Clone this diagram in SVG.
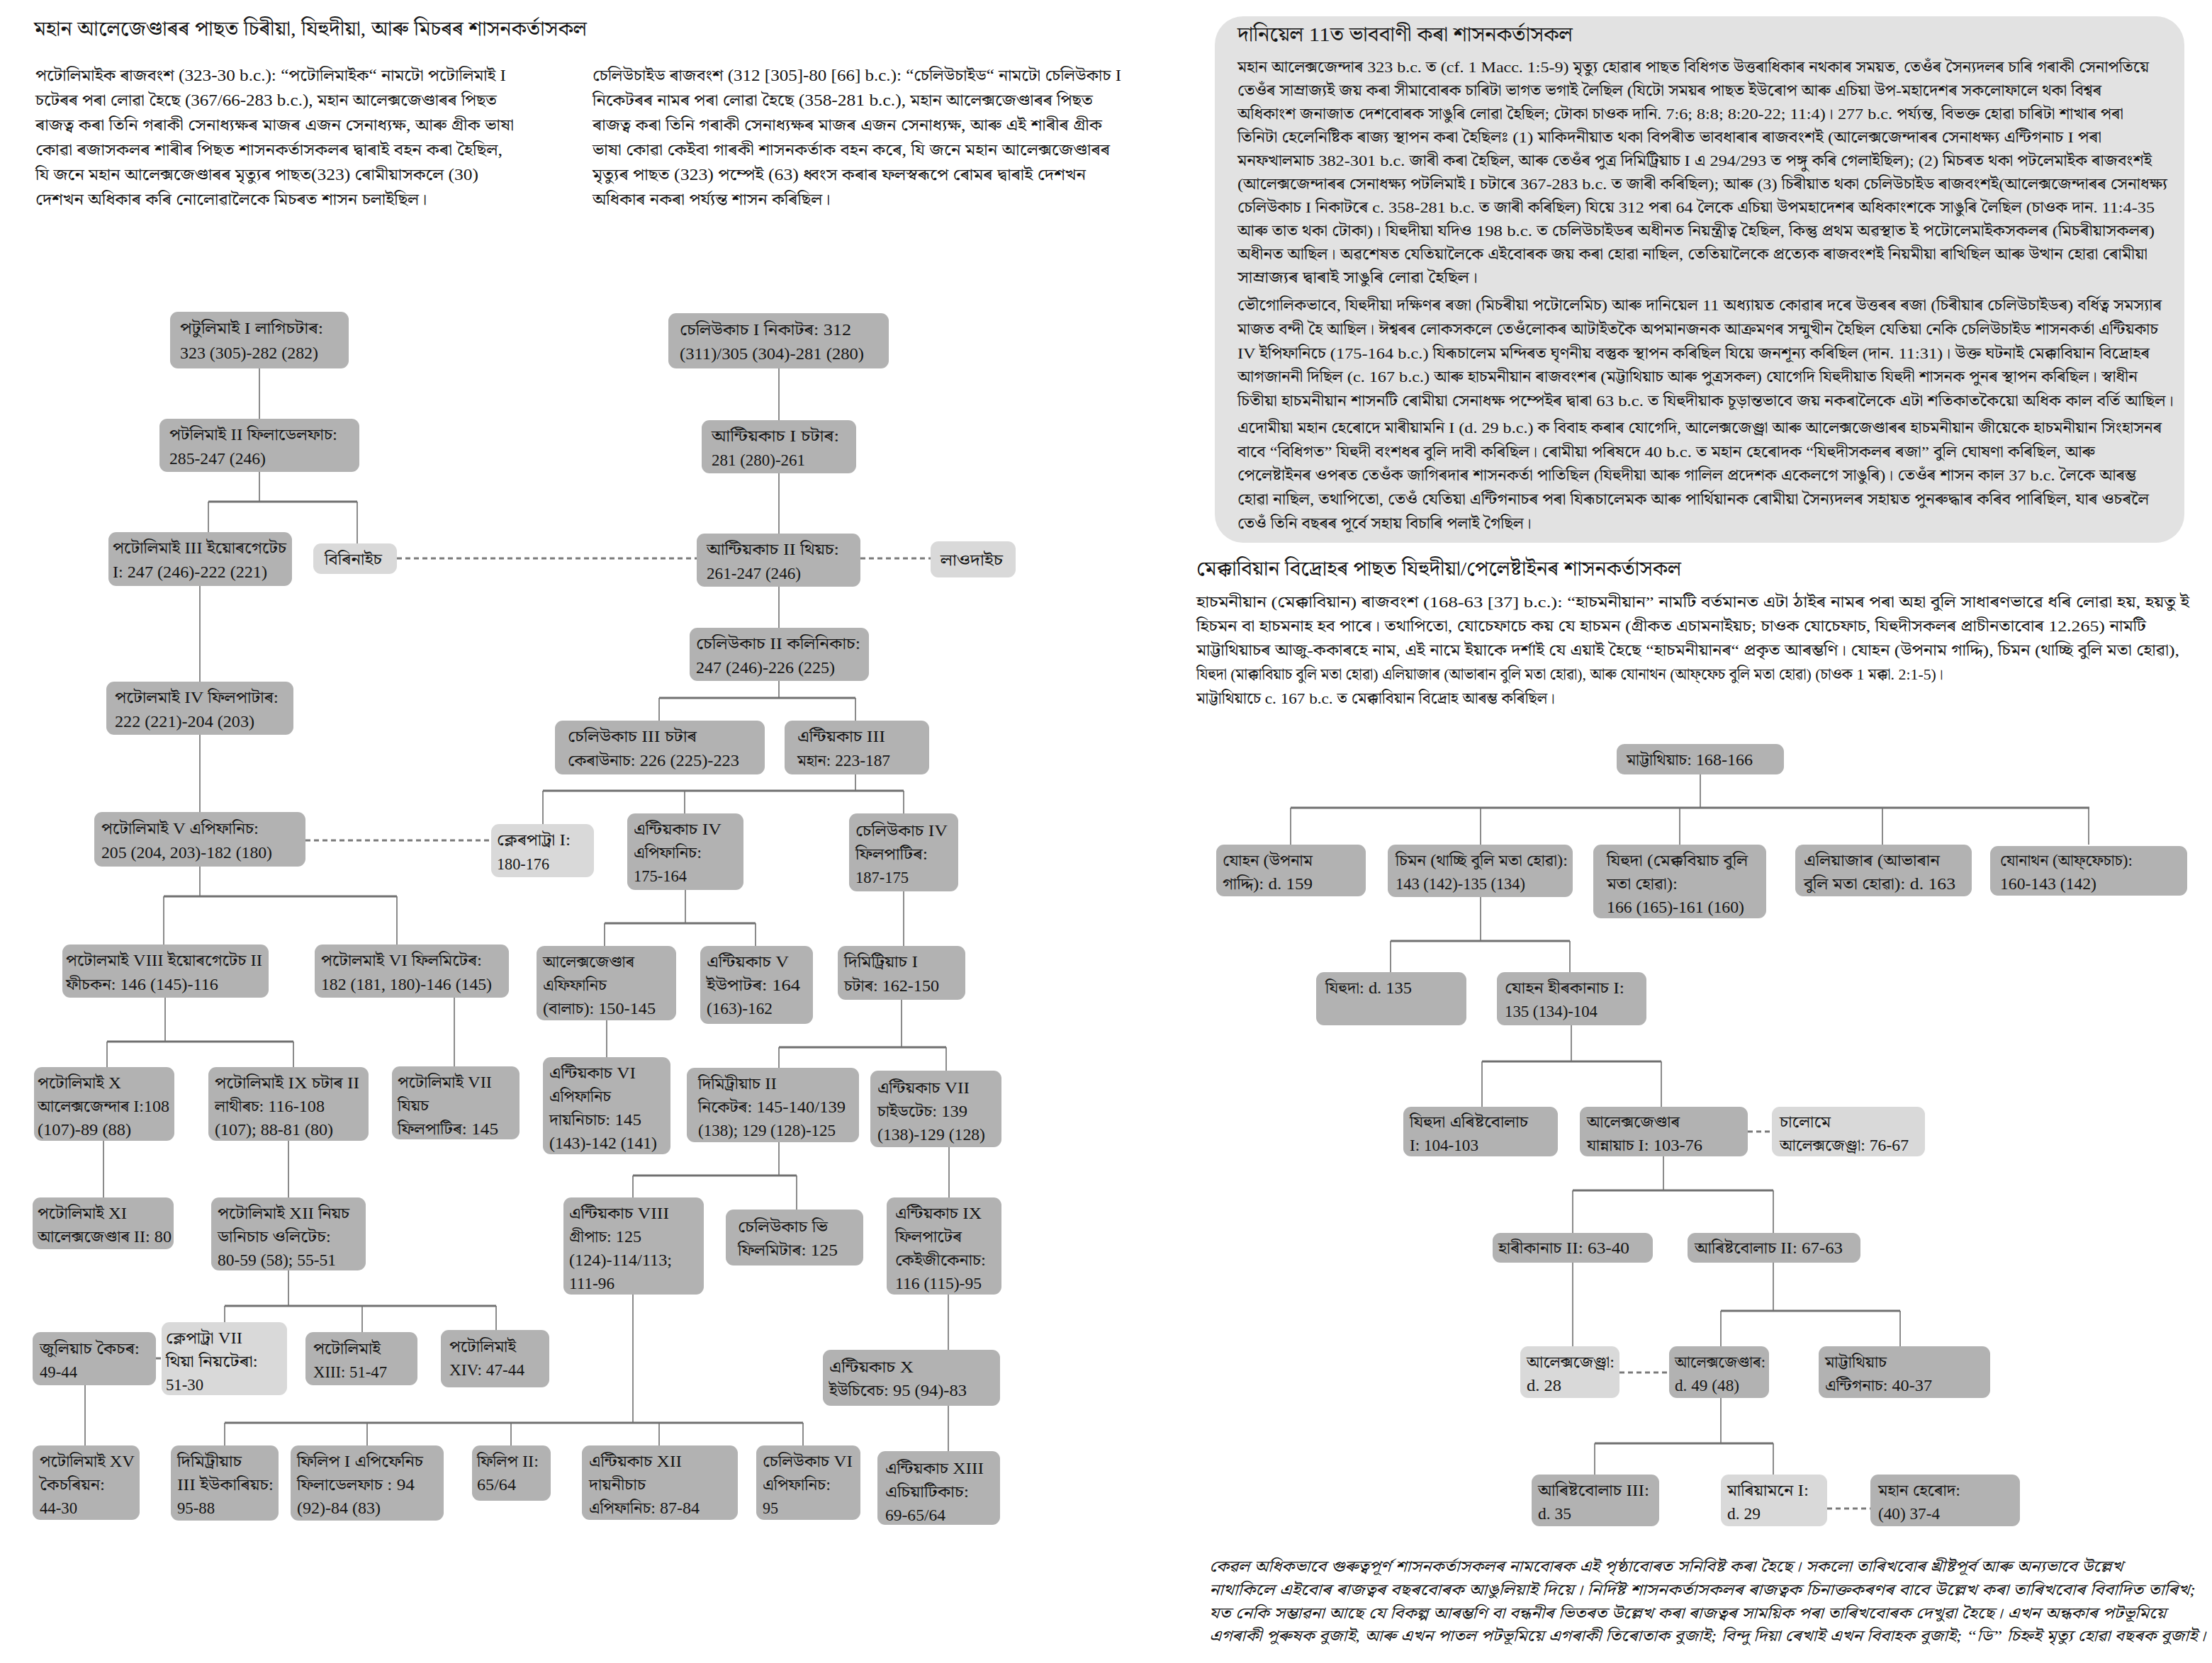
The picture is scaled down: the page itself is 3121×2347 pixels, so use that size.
<svg xmlns="http://www.w3.org/2000/svg" width="3121" height="2347" viewBox="0 0 3121 2347">
<style>
text{font-family:"Liberation Serif","Noto Serif Bengali","Noto Sans Bengali","Lohit Assamese","Lohit Bengali","FreeSerif",serif;fill:#151515}
.tt{font-size:28px}
.p{font-size:23px}
.q{font-size:22px}
.nt{font-size:23px}
.ft{font-size:22px;font-style:italic}
.n{fill:#b2b2b2}
.l{fill:#d9d9d9}
.c{stroke:#6f6f6f;stroke-width:1.6;fill:none}
.b{stroke:#707070;stroke-width:3;fill:none}
.d{stroke:#7a7a7a;stroke-width:3;stroke-dasharray:7 5;fill:none}
</style>
<rect width="3121" height="2347" fill="#ffffff"/>

<!-- header: Ptolemaic / Seleucid introductions -->
<g id="header-left">
<text class="tt" x="48" y="50" textLength="780" lengthAdjust="spacingAndGlyphs">মহান আলেজেণ্ডাৰৰ পাছত চিৰীয়া, যিহুদীয়া, আৰু মিচৰৰ শাসনকৰ্তাসকল</text>
<text class="p" x="50" y="114" textLength="664" lengthAdjust="spacingAndGlyphs">পটোলিমাইক ৰাজবংশ (323-30 b.c.): “পটোলিমাইক“ নামটো পটোলিমাই I</text>
<text class="p" x="50" y="149" textLength="651" lengthAdjust="spacingAndGlyphs">চটেৰৰ পৰা লোৱা হৈছে (367/66-283 b.c.), মহান আলেক্সজেণ্ডাৰৰ পিছত</text>
<text class="p" x="50" y="184" textLength="675" lengthAdjust="spacingAndGlyphs">ৰাজত্ব কৰা তিনি গৰাকী সেনাধ্যক্ষৰ মাজৰ এজন সেনাধ্যক্ষ, আৰু গ্ৰীক ভাষা</text>
<text class="p" x="50" y="219" textLength="659" lengthAdjust="spacingAndGlyphs">কোৱা ৰজাসকলৰ শাৰীৰ পিছত শাসনকৰ্তাসকলৰ দ্বাৰাই বহন কৰা হৈছিল,</text>
<text class="p" x="50" y="254" textLength="625" lengthAdjust="spacingAndGlyphs">যি জনে মহান আলেক্সজেণ্ডাৰৰ মৃত্যুৰ পাছত(323)  ৰোমীয়াসকলে (30)</text>
<text class="p" x="50" y="289" textLength="553" lengthAdjust="spacingAndGlyphs">দেশখন অধিকাৰ কৰি নোলোৱালৈকে মিচৰত শাসন চলাইছিল।</text>
</g>
<g id="header-middle">
<text class="p" x="836" y="114" textLength="746" lengthAdjust="spacingAndGlyphs">চেলিউচাইড ৰাজবংশ (312 [305]-80 [66] b.c.): “চেলিউচাইড“ নামটো চেলিউকাচ I</text>
<text class="p" x="836" y="149" textLength="706" lengthAdjust="spacingAndGlyphs">নিকেটৰৰ নামৰ পৰা লোৱা হৈছে (358-281 b.c.),  মহান আলেক্সজেণ্ডাৰৰ পিছত</text>
<text class="p" x="836" y="184" textLength="719" lengthAdjust="spacingAndGlyphs">ৰাজত্ব কৰা তিনি গৰাকী সেনাধ্যক্ষৰ মাজৰ এজন সেনাধ্যক্ষ, আৰু এই শাৰীৰ গ্ৰীক</text>
<text class="p" x="836" y="219" textLength="730" lengthAdjust="spacingAndGlyphs">ভাষা কোৱা কেইবা গাৰকী শাসনকৰ্তাক বহন কৰে, যি জনে মহান আলেক্সজেণ্ডাৰৰ</text>
<text class="p" x="836" y="254" textLength="696" lengthAdjust="spacingAndGlyphs">মৃত্যুৰ পাছত (323) পম্পেই (63) ধ্বংস কৰাৰ ফলস্বৰূপে  ৰোমৰ দ্বাৰাই দেশখন</text>
<text class="p" x="836" y="289" textLength="336" lengthAdjust="spacingAndGlyphs">অধিকাৰ নকৰা পৰ্য্যন্ত শাসন কৰিছিল।</text>
</g>

<!-- Daniel 11 panel -->
<g id="daniel-panel">
<rect x="1714" y="23" width="1368" height="743" rx="40" fill="#e2e2e2"/>
<text class="tt" x="1746" y="58" textLength="473" lengthAdjust="spacingAndGlyphs">দানিয়েল 11ত ভাববাণী কৰা শাসনকৰ্তাসকল</text>
<text class="q" x="1746" y="102" textLength="1286" lengthAdjust="spacingAndGlyphs">মহান আলেক্সজেন্দাৰ 323 b.c. ত (cf. 1 Macc. 1:5-9) মৃত্যু হোৱাৰ পাছত বিধিগত উত্তৰাধিকাৰ নথকাৰ সময়ত, তেওঁৰ সৈন্যদলৰ চাৰি গৰাকী সেনাপতিয়ে</text>
<text class="q" x="1746" y="135" textLength="1219" lengthAdjust="spacingAndGlyphs">তেওঁৰ সাম্ৰাজ্যই জয় কৰা সীমাবোৰক চাৰিটা ভাগত ভগাই লৈছিল (যিটো সময়ৰ পাছত ইউৰোপ আৰু এচিয়া উপ-মহাদেশৰ সকলোফালে থকা বিশ্বৰ</text>
<text class="q" x="1746" y="168" textLength="1250" lengthAdjust="spacingAndGlyphs">অধিকাংশ জনাজাত দেশবোৰক সাঙুৰি লোৱা হৈছিল; টোকা চাওক দানি. 7:6; 8:8; 8:20-22; 11:4)।  277 b.c. পৰ্য্যন্ত, বিভক্ত হোৱা চাৰিটা শাখাৰ পৰা</text>
<text class="q" x="1746" y="201" textLength="1219" lengthAdjust="spacingAndGlyphs">তিনিটা হেলেনিষ্টিক ৰাজ্য স্থাপন কৰা হৈছিলঃ (1) মাকিদনীয়াত থকা বিপৰীত ভাবধাৰাৰ ৰাজবংশই (আলেক্সজেন্দাৰৰ সেনাধক্ষ্য এন্টিগনাচ I পৰা</text>
<text class="q" x="1746" y="234" textLength="1290" lengthAdjust="spacingAndGlyphs">মনফখালমাচ 382-301 b.c. জাৰী কৰা হৈছিল, আৰু তেওঁৰ পুত্ৰ দিমিট্ৰিয়াচ I এ 294/293 ত পঙ্গু কৰি গেলাইছিল); (2) মিচৰত থকা পটলেমাইক ৰাজবংশই</text>
<text class="q" x="1746" y="267" textLength="1312" lengthAdjust="spacingAndGlyphs">(আলেক্সজেন্দাৰৰ সেনাধক্ষ্য পটলিমাই I চটাৰে 367-283 b.c. ত জাৰী কৰিছিল); আৰু (3)  চিৰীয়াত থকা চেলিউচাইড ৰাজবংশই(আলেক্সজেন্দাৰৰ সেনাধক্ষ্য</text>
<text class="q" x="1746" y="300" textLength="1294" lengthAdjust="spacingAndGlyphs">চেলিউকাচ I নিকাটৰে c. 358-281 b.c. ত জাৰী কৰিছিল) যিয়ে 312 পৰা 64 লৈকে এচিয়া উপমহাদেশৰ অধিকাংশকে সাঙুৰি লৈছিল (চাওক দান. 11:4-35</text>
<text class="q" x="1746" y="333" textLength="1294" lengthAdjust="spacingAndGlyphs">আৰু তাত থকা টোকা)। যিহুদীয়া যদিও  198 b.c. ত চেলিউচাইডৰ অধীনত নিয়ন্ত্ৰীত্ব হৈছিল, কিন্তু প্ৰথম অৱস্থাত ই পটোলেমাইকসকলৰ (মিচৰীয়াসকলৰ)</text>
<text class="q" x="1746" y="366" textLength="1284" lengthAdjust="spacingAndGlyphs">অধীনত আছিল। অৱশেষত যেতিয়ালৈকে এইবোৰক জয় কৰা হোৱা নাছিল, তেতিয়ালৈকে প্ৰত্যেক ৰাজবংশই নিয়মীয়া ৰাখিছিল আৰু উত্থান হোৱা ৰোমীয়া</text>
<text class="q" x="1746" y="399" textLength="339" lengthAdjust="spacingAndGlyphs">সাম্ৰাজ্যৰ দ্বাৰাই সাঙুৰি লোৱা হৈছিল।</text>
<text class="q" x="1746" y="438" textLength="1304" lengthAdjust="spacingAndGlyphs">ভৌগোলিকভাবে, যিহুদীয়া দক্ষিণৰ ৰজা (মিচৰীয়া পটোলেমিচ) আৰু দানিয়েল 11 অধ্যায়ত কোৱাৰ দৰে উত্তৰৰ ৰজা (চিৰীয়াৰ চেলিউচাইডৰ) বৰ্ধিত্ব সমস্যাৰ</text>
<text class="q" x="1746" y="472" textLength="1299" lengthAdjust="spacingAndGlyphs">মাজত বন্দী হৈ আছিল। ঈশ্বৰৰ লোকসকলে তেওঁলোকৰ আটাইতকৈ অপমানজনক আক্ৰমণৰ সন্মুখীন হৈছিল যেতিয়া নেকি চেলিউচাইড শাসনকৰ্তা এন্টিয়কাচ</text>
<text class="q" x="1746" y="506" textLength="1287" lengthAdjust="spacingAndGlyphs">IV ইপিফানিচে (175-164 b.c.)  যিৰূচালেম মন্দিৰত ঘৃণনীয় বস্তুক স্থাপন কৰিছিল যিয়ে জনশূন্য কৰিছিল (দান. 11:31)। উক্ত ঘটনাই মেক্কাবিয়ান বিদ্ৰোহৰ</text>
<text class="q" x="1746" y="539" textLength="1270" lengthAdjust="spacingAndGlyphs">আগজাননী দিছিল (c. 167 b.c.) আৰু হাচমনীয়ান ৰাজবংশৰ (মট্টাথিয়াচ আৰু পুত্ৰসকল) যোগেদি যিহুদীয়াত যিহুদী শাসনক পুনৰ স্থাপন কৰিছিল। স্বাধীন</text>
<text class="q" x="1746" y="573" textLength="1321" lengthAdjust="spacingAndGlyphs">চিতীয়া হাচমনীয়ান শাসনটি ৰোমীয়া সেনাধক্ষ পম্পেইৰ দ্বাৰা 63 b.c. ত যিহুদীয়াক চূড়ান্তভাবে জয় নকৰালৈকে এটা শতিকাতকৈয়ো অধিক কাল বৰ্তি আছিল।</text>
<text class="q" x="1746" y="611" textLength="1304" lengthAdjust="spacingAndGlyphs">এদোমীয়া মহান হেৰোদে মাৰীয়ামনি I (d. 29 b.c.) ক বিবাহ কৰাৰ যোগেদি, আলেক্সজেণ্ড্ৰা আৰু আলেক্সজেণ্ডাৰৰ হাচমনীয়ান জীয়েকে হাচমনীয়ান সিংহাসনৰ</text>
<text class="q" x="1746" y="645" textLength="1210" lengthAdjust="spacingAndGlyphs">বাবে “বিধিগত” যিহুদী বংশধৰ বুলি দাবী কৰিছিল। ৰোমীয়া পৰিষদে 40 b.c. ত মহান হেৰোদক “যিহুদীসকলৰ ৰজা” বুলি ঘোষণা কৰিছিল, আৰু</text>
<text class="q" x="1746" y="678" textLength="1268" lengthAdjust="spacingAndGlyphs">পেলেষ্টাইনৰ ওপৰত তেওঁক জাগিৰদাৰ শাসনকৰ্তা পাতিছিল (যিহুদীয়া আৰু গালিল প্ৰদেশক একেলগে সাঙুৰি)। তেওঁৰ শাসন কাল 37 b.c. লৈকে আৰম্ভ</text>
<text class="q" x="1746" y="712" textLength="1286" lengthAdjust="spacingAndGlyphs">হোৱা নাছিল, তথাপিতো, তেওঁ যেতিয়া এন্টিগনাচৰ পৰা যিৰূচালেমক আৰু পাৰ্থিয়ানক ৰোমীয়া সৈন্যদলৰ সহায়ত পুনৰুদ্ধাৰ কৰিব পাৰিছিল, যাৰ ওচৰলৈ</text>
<text class="q" x="1746" y="746" textLength="415" lengthAdjust="spacingAndGlyphs">তেওঁ তিনি বছৰৰ পূৰ্বে সহায় বিচাৰি পলাই গৈছিল।</text>
</g>

<!-- Hasmonean introduction -->
<g id="hasmonean-intro">
<text class="tt" x="1688" y="812" textLength="684" lengthAdjust="spacingAndGlyphs">মেক্কাবিয়ান বিদ্ৰোহৰ পাছত যিহুদীয়া/পেলেষ্টাইনৰ শাসনকৰ্তাসকল</text>
<text class="q" x="1688" y="857" textLength="1401" lengthAdjust="spacingAndGlyphs">হাচমনীয়ান (মেক্কাবিয়ান) ৰাজবংশ (168-63 [37] b.c.): “হাচমনীয়ান” নামটি বৰ্তমানত এটা ঠাইৰ নামৰ পৰা অহা বুলি সাধাৰণভাৱে ধৰি লোৱা হয়, হয়তু ই</text>
<text class="q" x="1688" y="891" textLength="1340" lengthAdjust="spacingAndGlyphs">হিচমন বা হাচমনাহ হব পাৰে। তথাপিতো, যোচেফাচে কয় যে হাচমন (গ্ৰীকত এচামনাইয়চ; চাওক যোচেফাচ, যিহুদীসকলৰ প্ৰাচীনতাবোৰ 12.265)  নামটি</text>
<text class="q" x="1688" y="925" textLength="1387" lengthAdjust="spacingAndGlyphs">মাট্টাথিয়াচৰ আজু-ককাৰহে নাম, এই নামে ইয়াকে দৰ্শাই যে এয়াই হৈছে “হাচমনীয়ানৰ“ প্ৰকৃত আৰম্ভণি। যোহন (উপনাম গাদ্দি), চিমন (থাচ্ছি বুলি মতা হোৱা),</text>
<text class="q" x="1688" y="959" textLength="1054" lengthAdjust="spacingAndGlyphs">যিহুদা (মাক্কাবিয়াচ বুলি মতা হোৱা) এলিয়াজাৰ (আভাৰান বুলি মতা হোৱা), আৰু যোনাথন (আফ্ফেচ বুলি মতা হোৱা) (চাওক 1 মক্কা. 2:1-5)।</text>
<text class="q" x="1688" y="993" textLength="506" lengthAdjust="spacingAndGlyphs">মাট্টাথিয়াচে c. 167 b.c. ত মেক্কাবিয়ান বিদ্ৰোহ আৰম্ভ কৰিছিল।</text>
</g>

<!-- connectors -->
<g id="connectors">
<path class="c" d="M366 520V591M366 666V708M282 827V962M282 1037V1146M1099 520V593M1099 668V753M1099 828V886M1099 961V985M1207 1093V1116M282 1223V1265M967 1256V1303M1275 1258V1335M233 1408V1470M641 1408V1505M856 1440V1492M1272 1411V1478M146 1610V1690M407 1610V1690M1099 1612V1659M1339 1619V1690M407 1793V1843M120 1955V2040M1338 1827V1905M1338 1984V2048M893 1827V2008"/>
<path class="c" d="M294 708V751M504 708V767M930 985V1017M1207 985V1017M766 1116V1163M966 1116V1148M1275 1116V1148M231 1265V1333M560 1265V1333M853 1303V1335M1066 1303V1335M151 1470V1506M414 1470V1506M1099 1478V1507M1335 1478V1511M893 1659V1690M1124 1659V1707M317 1843V1866M511 1843V1880M700 1843V1877M317 2008V2040M518 2008V2040M721 2008V2040M930 2008V2040M1133 2008V2040"/>
<path class="b" d="M294 708H504M930 985H1207M766 1116H1275M231 1265H560M853 1303H1066M151 1470H414M1099 1478H1335M893 1659H1124M317 1843H700M317 2008H1133"/>
<path class="c" d="M2399 1093V1140M1821 1140V1192M2089 1140V1192M2370 1140V1192M2656 1140V1192M2947 1140V1192M2089 1266V1328M1962 1328V1372M2215 1328V1372M2217 1447V1498M2091 1498V1562M2344 1498V1562M2347 1632V1680M2219 1680V1740M2502 1680V1740M2219 1782V1900M2502 1782V1850M2428 1850V1900M2681 1850V1900M2428 1973V2037M2250 2037V2081M2502 2037V2081"/>
<path class="b" d="M1821 1140H2948M1962 1328H2215M2091 1498H2344M2219 1680H2502M2428 1850H2681M2250 2037H2502"/>
<path class="d" d="M560 788H983M1214 788H1313M431 1186H693M220 1917H228M2466 1597H2500M2285 1937H2355M2578 2129H2639"/>
</g>

<!-- Ptolemaic line -->
<g id="ptolemy-1"><rect class="n" x="240" y="440" width="252" height="80" rx="11"/><text class="nt" x="254" y="471" textLength="202" lengthAdjust="spacingAndGlyphs">পটুলিমাই I লাগিচটাৰ:</text><text class="nt" x="254" y="506" textLength="195" lengthAdjust="spacingAndGlyphs">323 (305)-282 (282)</text></g>
<g id="ptolemy-2"><rect class="n" x="225" y="591" width="282" height="75" rx="11"/><text class="nt" x="239" y="621" textLength="237" lengthAdjust="spacingAndGlyphs">পটলিমাই II ফিলাডেলফাচ:</text><text class="nt" x="239" y="655" textLength="136" lengthAdjust="spacingAndGlyphs">285-247 (246)</text></g>
<g id="ptolemy-3"><rect class="n" x="153" y="751" width="259" height="76" rx="11"/><text class="nt" x="159" y="781" textLength="245" lengthAdjust="spacingAndGlyphs">পটোলিমাই III ইয়োৰগেটেচ</text><text class="nt" x="159" y="815" textLength="218" lengthAdjust="spacingAndGlyphs">I: 247 (246)-222 (221)</text></g>
<g id="berenice"><rect class="l" x="442" y="767" width="118" height="43" rx="11"/><text class="nt" x="458" y="797" textLength="81" lengthAdjust="spacingAndGlyphs">বিৰিনাইচ</text></g>
<g id="ptolemy-4"><rect class="n" x="150" y="962" width="264" height="75" rx="11"/><text class="nt" x="162" y="992" textLength="231" lengthAdjust="spacingAndGlyphs">পটোলমাই IV ফিলপাটাৰ:</text><text class="nt" x="162" y="1026" textLength="197" lengthAdjust="spacingAndGlyphs">222 (221)-204 (203)</text></g>
<g id="ptolemy-5"><rect class="n" x="133" y="1146" width="298" height="77" rx="11"/><text class="nt" x="143" y="1177" textLength="222" lengthAdjust="spacingAndGlyphs">পটোলিমাই V এপিফানিচ:</text><text class="nt" x="143" y="1211" textLength="241" lengthAdjust="spacingAndGlyphs">205 (204, 203)-182 (180)</text></g>
<g id="ptolemy-8"><rect class="n" x="88" y="1333" width="291" height="75" rx="11"/><text class="nt" x="93" y="1363" textLength="277" lengthAdjust="spacingAndGlyphs">পটোলমাই VIII ইয়োৰগেটেচ II</text><text class="nt" x="93" y="1397" textLength="215" lengthAdjust="spacingAndGlyphs">ফীচকন: 146 (145)-116</text></g>
<g id="ptolemy-6"><rect class="n" x="444" y="1333" width="274" height="75" rx="11"/><text class="nt" x="453" y="1363" textLength="227" lengthAdjust="spacingAndGlyphs">পটোলমাই VI ফিলমিটেৰ:</text><text class="nt" x="453" y="1397" textLength="241" lengthAdjust="spacingAndGlyphs">182 (181, 180)-146 (145)</text></g>
<g id="ptolemy-10"><rect class="n" x="48" y="1506" width="198" height="104" rx="11"/><text class="nt" x="53" y="1536" textLength="118" lengthAdjust="spacingAndGlyphs">পটোলিমাই X</text><text class="nt" x="53" y="1569" textLength="186" lengthAdjust="spacingAndGlyphs">আলেক্সজেন্দাৰ I:108</text><text class="nt" x="53" y="1602" textLength="132" lengthAdjust="spacingAndGlyphs">(107)-89 (88)</text></g>
<g id="ptolemy-9"><rect class="n" x="294" y="1506" width="226" height="104" rx="11"/><text class="nt" x="303" y="1536" textLength="204" lengthAdjust="spacingAndGlyphs">পটোলিমাই IX চটাৰ II</text><text class="nt" x="303" y="1569" textLength="155" lengthAdjust="spacingAndGlyphs">লাথীৰচ: 116-108</text><text class="nt" x="303" y="1602" textLength="167" lengthAdjust="spacingAndGlyphs">(107); 88-81 (80)</text></g>
<g id="ptolemy-7"><rect class="n" x="553" y="1505" width="180" height="103" rx="11"/><text class="nt" x="561" y="1535" textLength="133" lengthAdjust="spacingAndGlyphs">পটোলিমাই VII</text><text class="nt" x="561" y="1568" textLength="44" lengthAdjust="spacingAndGlyphs">যিয়চ</text><text class="nt" x="561" y="1601" textLength="142" lengthAdjust="spacingAndGlyphs">ফিলপাটিৰ: 145</text></g>
<g id="ptolemy-11"><rect class="n" x="46" y="1690" width="199" height="73" rx="11"/><text class="nt" x="53" y="1720" textLength="126" lengthAdjust="spacingAndGlyphs">পটোলিমাই XI</text><text class="nt" x="53" y="1753" textLength="189" lengthAdjust="spacingAndGlyphs">আলেক্সজেণ্ডাৰ II: 80</text></g>
<g id="ptolemy-12"><rect class="n" x="298" y="1690" width="218" height="103" rx="11"/><text class="nt" x="307" y="1720" textLength="186" lengthAdjust="spacingAndGlyphs">পটোলিমাই XII নিয়চ</text><text class="nt" x="307" y="1753" textLength="160" lengthAdjust="spacingAndGlyphs">ডানিচাচ ওলিটেচ:</text><text class="nt" x="307" y="1786" textLength="167" lengthAdjust="spacingAndGlyphs">80-59 (58); 55-51</text></g>
<g id="julius-caesar"><rect class="n" x="46" y="1880" width="174" height="75" rx="11"/><text class="nt" x="56" y="1911" textLength="141" lengthAdjust="spacingAndGlyphs">জুলিয়াচ কৈচৰ:</text><text class="nt" x="56" y="1944" textLength="53" lengthAdjust="spacingAndGlyphs">49-44</text></g>
<g id="cleopatra-7"><rect class="l" x="228" y="1866" width="177" height="103" rx="11"/><text class="nt" x="234" y="1896" textLength="108" lengthAdjust="spacingAndGlyphs">ক্লেপাট্ৰা VII</text><text class="nt" x="234" y="1929" textLength="130" lengthAdjust="spacingAndGlyphs">থিয়া নিয়টেৰা:</text><text class="nt" x="234" y="1962" textLength="53" lengthAdjust="spacingAndGlyphs">51-30</text></g>
<g id="ptolemy-13"><rect class="n" x="431" y="1880" width="158" height="75" rx="11"/><text class="nt" x="442" y="1911" textLength="95" lengthAdjust="spacingAndGlyphs">পটোলিমাই</text><text class="nt" x="442" y="1944" textLength="104" lengthAdjust="spacingAndGlyphs">XIII: 51-47</text></g>
<g id="ptolemy-14"><rect class="n" x="622" y="1877" width="153" height="81" rx="11"/><text class="nt" x="634" y="1908" textLength="94" lengthAdjust="spacingAndGlyphs">পটোলিমাই</text><text class="nt" x="634" y="1941" textLength="106" lengthAdjust="spacingAndGlyphs">XIV: 47-44</text></g>
<g id="ptolemy-15"><rect class="n" x="46" y="2040" width="151" height="105" rx="11"/><text class="nt" x="56" y="2070" textLength="134" lengthAdjust="spacingAndGlyphs">পটোলিমাই XV</text><text class="nt" x="56" y="2103" textLength="92" lengthAdjust="spacingAndGlyphs">কৈচৰিয়ন:</text><text class="nt" x="56" y="2136" textLength="53" lengthAdjust="spacingAndGlyphs">44-30</text></g>

<!-- Seleucid line -->
<g id="seleucus-1"><rect class="n" x="943" y="442" width="311" height="78" rx="11"/><text class="nt" x="959" y="473" textLength="242" lengthAdjust="spacingAndGlyphs">চেলিউকাচ I নিকাটৰ: 312</text><text class="nt" x="959" y="507" textLength="260" lengthAdjust="spacingAndGlyphs">(311)/305 (304)-281 (280)</text></g>
<g id="antiochus-1"><rect class="n" x="990" y="593" width="218" height="75" rx="11"/><text class="nt" x="1004" y="623" textLength="180" lengthAdjust="spacingAndGlyphs">আন্টিয়কাচ I চটাৰ:</text><text class="nt" x="1004" y="657" textLength="132" lengthAdjust="spacingAndGlyphs">281 (280)-261</text></g>
<g id="antiochus-2"><rect class="n" x="983" y="753" width="231" height="75" rx="11"/><text class="nt" x="997" y="783" textLength="187" lengthAdjust="spacingAndGlyphs">আন্টিয়কাচ II থিয়চ:</text><text class="nt" x="997" y="817" textLength="133" lengthAdjust="spacingAndGlyphs">261-247 (246)</text></g>
<g id="laodice"><rect class="l" x="1313" y="764" width="120" height="51" rx="11"/><text class="nt" x="1327" y="798" textLength="88" lengthAdjust="spacingAndGlyphs">লাওদাইচ</text></g>
<g id="seleucus-2"><rect class="n" x="973" y="886" width="253" height="75" rx="11"/><text class="nt" x="982" y="916" textLength="232" lengthAdjust="spacingAndGlyphs">চেলিউকাচ II কলিনিকাচ:</text><text class="nt" x="982" y="950" textLength="196" lengthAdjust="spacingAndGlyphs">247 (246)-226 (225)</text></g>
<g id="seleucus-3"><rect class="n" x="783" y="1017" width="296" height="76" rx="11"/><text class="nt" x="801" y="1047" textLength="182" lengthAdjust="spacingAndGlyphs">চেলিউকাচ III চটাৰ</text><text class="nt" x="801" y="1081" textLength="242" lengthAdjust="spacingAndGlyphs">কেৰাউনাচ: 226 (225)-223</text></g>
<g id="antiochus-3"><rect class="n" x="1107" y="1017" width="204" height="76" rx="11"/><text class="nt" x="1125" y="1047" textLength="124" lengthAdjust="spacingAndGlyphs">এন্টিয়কাচ III</text><text class="nt" x="1125" y="1081" textLength="131" lengthAdjust="spacingAndGlyphs">মহান: 223-187</text></g>
<g id="cleopatra-1"><rect class="l" x="693" y="1163" width="145" height="75" rx="11"/><text class="nt" x="701" y="1193" textLength="104" lengthAdjust="spacingAndGlyphs">ক্লেৰপাট্ৰা I:</text><text class="nt" x="701" y="1227" textLength="74" lengthAdjust="spacingAndGlyphs">180-176</text></g>
<g id="antiochus-4"><rect class="n" x="885" y="1148" width="164" height="108" rx="11"/><text class="nt" x="894" y="1178" textLength="124" lengthAdjust="spacingAndGlyphs">এন্টিয়কাচ IV</text><text class="nt" x="894" y="1211" textLength="96" lengthAdjust="spacingAndGlyphs">এপিফানিচ:</text><text class="nt" x="894" y="1244" textLength="75" lengthAdjust="spacingAndGlyphs">175-164</text></g>
<g id="seleucus-4"><rect class="n" x="1198" y="1148" width="154" height="110" rx="11"/><text class="nt" x="1207" y="1180" textLength="130" lengthAdjust="spacingAndGlyphs">চেলিউকাচ IV</text><text class="nt" x="1207" y="1213" textLength="102" lengthAdjust="spacingAndGlyphs">ফিলপাটিৰ:</text><text class="nt" x="1207" y="1246" textLength="75" lengthAdjust="spacingAndGlyphs">187-175</text></g>
<g id="alexander-balas"><rect class="n" x="757" y="1335" width="197" height="105" rx="11"/><text class="nt" x="766" y="1365" textLength="129" lengthAdjust="spacingAndGlyphs">আলেক্সজেণ্ডাৰ</text><text class="nt" x="766" y="1398" textLength="90" lengthAdjust="spacingAndGlyphs">এফিফানিচ</text><text class="nt" x="766" y="1431" textLength="159" lengthAdjust="spacingAndGlyphs">(বালাচ): 150-145</text></g>
<g id="antiochus-5"><rect class="n" x="988" y="1335" width="159" height="110" rx="11"/><text class="nt" x="997" y="1365" textLength="116" lengthAdjust="spacingAndGlyphs">এন্টিয়কাচ V</text><text class="nt" x="997" y="1398" textLength="132" lengthAdjust="spacingAndGlyphs">ইউপাটৰ: 164</text><text class="nt" x="997" y="1431" textLength="93" lengthAdjust="spacingAndGlyphs">(163)-162</text></g>
<g id="demetrius-1"><rect class="n" x="1182" y="1335" width="180" height="76" rx="11"/><text class="nt" x="1191" y="1365" textLength="104" lengthAdjust="spacingAndGlyphs">দিমিট্ৰিয়াচ I</text><text class="nt" x="1191" y="1399" textLength="134" lengthAdjust="spacingAndGlyphs">চটাৰ: 162-150</text></g>
<g id="antiochus-6"><rect class="n" x="766" y="1492" width="180" height="137" rx="11"/><text class="nt" x="775" y="1522" textLength="122" lengthAdjust="spacingAndGlyphs">এন্টিয়কাচ VI</text><text class="nt" x="775" y="1555" textLength="87" lengthAdjust="spacingAndGlyphs">এপিফানিচ</text><text class="nt" x="775" y="1588" textLength="130" lengthAdjust="spacingAndGlyphs">দায়নিচাচ: 145</text><text class="nt" x="775" y="1621" textLength="152" lengthAdjust="spacingAndGlyphs">(143)-142 (141)</text></g>
<g id="demetrius-2"><rect class="n" x="969" y="1507" width="243" height="105" rx="11"/><text class="nt" x="985" y="1537" textLength="111" lengthAdjust="spacingAndGlyphs">দিমিট্ৰীয়াচ II</text><text class="nt" x="985" y="1570" textLength="208" lengthAdjust="spacingAndGlyphs">নিকেটৰ: 145-140/139</text><text class="nt" x="985" y="1603" textLength="194" lengthAdjust="spacingAndGlyphs">(138); 129 (128)-125</text></g>
<g id="antiochus-7"><rect class="n" x="1228" y="1511" width="185" height="108" rx="11"/><text class="nt" x="1238" y="1543" textLength="130" lengthAdjust="spacingAndGlyphs">এন্টিয়কাচ VII</text><text class="nt" x="1238" y="1576" textLength="127" lengthAdjust="spacingAndGlyphs">চাইডটেচ: 139</text><text class="nt" x="1238" y="1609" textLength="152" lengthAdjust="spacingAndGlyphs">(138)-129 (128)</text></g>
<g id="antiochus-8"><rect class="n" x="795" y="1690" width="198" height="137" rx="11"/><text class="nt" x="803" y="1720" textLength="141" lengthAdjust="spacingAndGlyphs">এন্টিয়কাচ VIII</text><text class="nt" x="803" y="1753" textLength="102" lengthAdjust="spacingAndGlyphs">গ্ৰীপাচ: 125</text><text class="nt" x="803" y="1786" textLength="145" lengthAdjust="spacingAndGlyphs">(124)-114/113;</text><text class="nt" x="803" y="1819" textLength="64" lengthAdjust="spacingAndGlyphs">111-96</text></g>
<g id="seleucus-5"><rect class="n" x="1024" y="1707" width="194" height="79" rx="11"/><text class="nt" x="1041" y="1739" textLength="127" lengthAdjust="spacingAndGlyphs">চেলিউকাচ ভি</text><text class="nt" x="1041" y="1772" textLength="141" lengthAdjust="spacingAndGlyphs">ফিলমিটাৰ: 125</text></g>
<g id="antiochus-9"><rect class="n" x="1251" y="1690" width="162" height="137" rx="11"/><text class="nt" x="1263" y="1720" textLength="122" lengthAdjust="spacingAndGlyphs">এন্টিয়কাচ IX</text><text class="nt" x="1263" y="1753" textLength="94" lengthAdjust="spacingAndGlyphs">ফিলপাটেৰ</text><text class="nt" x="1263" y="1786" textLength="128" lengthAdjust="spacingAndGlyphs">কেইজীকেনাচ:</text><text class="nt" x="1263" y="1819" textLength="122" lengthAdjust="spacingAndGlyphs">116 (115)-95</text></g>
<g id="antiochus-10"><rect class="n" x="1161" y="1905" width="250" height="79" rx="11"/><text class="nt" x="1170" y="1937" textLength="119" lengthAdjust="spacingAndGlyphs">এন্টিয়কাচ X</text><text class="nt" x="1170" y="1970" textLength="194" lengthAdjust="spacingAndGlyphs">ইউচিবেচ: 95 (94)-83</text></g>
<g id="antiochus-13"><rect class="n" x="1238" y="2048" width="173" height="104" rx="11"/><text class="nt" x="1249" y="2080" textLength="139" lengthAdjust="spacingAndGlyphs">এন্টিয়কাচ XIII</text><text class="nt" x="1249" y="2113" textLength="118" lengthAdjust="spacingAndGlyphs">এচিয়াটিকাচ:</text><text class="nt" x="1249" y="2146" textLength="85" lengthAdjust="spacingAndGlyphs">69-65/64</text></g>
<g id="demetrius-3"><rect class="n" x="241" y="2040" width="152" height="106" rx="11"/><text class="nt" x="250" y="2070" textLength="91" lengthAdjust="spacingAndGlyphs">দিমিট্ৰীয়াচ</text><text class="nt" x="250" y="2103" textLength="136" lengthAdjust="spacingAndGlyphs">III ইউকাৰিয়চ:</text><text class="nt" x="250" y="2136" textLength="53" lengthAdjust="spacingAndGlyphs">95-88</text></g>
<g id="philip-1"><rect class="n" x="410" y="2040" width="216" height="106" rx="11"/><text class="nt" x="419" y="2070" textLength="178" lengthAdjust="spacingAndGlyphs">ফিলিপ I এপিফেনিচ</text><text class="nt" x="419" y="2103" textLength="166" lengthAdjust="spacingAndGlyphs">ফিলাডেলফাচ : 94</text><text class="nt" x="419" y="2136" textLength="118" lengthAdjust="spacingAndGlyphs">(92)-84 (83)</text></g>
<g id="philip-2"><rect class="n" x="666" y="2040" width="111" height="78" rx="11"/><text class="nt" x="673" y="2070" textLength="87" lengthAdjust="spacingAndGlyphs">ফিলিপ II:</text><text class="nt" x="673" y="2103" textLength="55" lengthAdjust="spacingAndGlyphs">65/64</text></g>
<g id="antiochus-12"><rect class="n" x="821" y="2040" width="220" height="105" rx="11"/><text class="nt" x="831" y="2070" textLength="131" lengthAdjust="spacingAndGlyphs">এন্টিয়কাচ XII</text><text class="nt" x="831" y="2103" textLength="80" lengthAdjust="spacingAndGlyphs">দায়নীচাচ</text><text class="nt" x="831" y="2136" textLength="156" lengthAdjust="spacingAndGlyphs">এপিফানিচ: 87-84</text></g>
<g id="seleucus-6"><rect class="n" x="1067" y="2040" width="147" height="105" rx="11"/><text class="nt" x="1076" y="2070" textLength="127" lengthAdjust="spacingAndGlyphs">চেলিউকাচ VI</text><text class="nt" x="1076" y="2103" textLength="96" lengthAdjust="spacingAndGlyphs">এপিফানিচ:</text><text class="nt" x="1076" y="2136" textLength="22" lengthAdjust="spacingAndGlyphs">95</text></g>

<!-- Hasmonean line -->
<g id="mattathias"><rect class="n" x="2281" y="1050" width="236" height="43" rx="11"/><text class="nt" x="2295" y="1080" textLength="178" lengthAdjust="spacingAndGlyphs">মাট্টাথিয়াচ: 168-166</text></g>
<g id="john-gaddi"><rect class="n" x="1716" y="1192" width="211" height="73" rx="11"/><text class="nt" x="1725" y="1222" textLength="127" lengthAdjust="spacingAndGlyphs">যোহন (উপনাম</text><text class="nt" x="1725" y="1255" textLength="127" lengthAdjust="spacingAndGlyphs">গাদ্দি): d. 159</text></g>
<g id="simon-thassi"><rect class="n" x="1958" y="1192" width="261" height="74" rx="11"/><text class="nt" x="1969" y="1222" textLength="243" lengthAdjust="spacingAndGlyphs">চিমন (থাচ্ছি বুলি মতা হোৱা):</text><text class="nt" x="1969" y="1255" textLength="183" lengthAdjust="spacingAndGlyphs">143 (142)-135 (134)</text></g>
<g id="judas-maccabeus"><rect class="n" x="2248" y="1192" width="244" height="104" rx="11"/><text class="nt" x="2267" y="1222" textLength="199" lengthAdjust="spacingAndGlyphs">যিহুদা (মেক্কবিয়াচ বুলি</text><text class="nt" x="2267" y="1255" textLength="100" lengthAdjust="spacingAndGlyphs">মতা হোৱা):</text><text class="nt" x="2267" y="1288" textLength="194" lengthAdjust="spacingAndGlyphs">166 (165)-161 (160)</text></g>
<g id="eleazar-avaran"><rect class="n" x="2533" y="1192" width="249" height="73" rx="11"/><text class="nt" x="2545" y="1222" textLength="192" lengthAdjust="spacingAndGlyphs">এলিয়াজাৰ (আভাৰান</text><text class="nt" x="2545" y="1255" textLength="214" lengthAdjust="spacingAndGlyphs">বুলি মতা হোৱা): d. 163</text></g>
<g id="jonathan-apphus"><rect class="n" x="2808" y="1194" width="278" height="70" rx="11"/><text class="nt" x="2822" y="1222" textLength="187" lengthAdjust="spacingAndGlyphs">যোনাথন (আফ্ফেচাচ):</text><text class="nt" x="2822" y="1255" textLength="136" lengthAdjust="spacingAndGlyphs">160-143 (142)</text></g>
<g id="judas-d135"><rect class="n" x="1857" y="1372" width="212" height="75" rx="11"/><text class="nt" x="1870" y="1402" textLength="122" lengthAdjust="spacingAndGlyphs">যিহুদা: d. 135</text></g>
<g id="john-hyrcanus-1"><rect class="n" x="2112" y="1372" width="211" height="75" rx="11"/><text class="nt" x="2123" y="1402" textLength="169" lengthAdjust="spacingAndGlyphs">যোহন হীৰকানাচ I:</text><text class="nt" x="2123" y="1435" textLength="131" lengthAdjust="spacingAndGlyphs">135 (134)-104</text></g>
<g id="judas-aristobulus-1"><rect class="n" x="1980" y="1562" width="218" height="70" rx="11"/><text class="nt" x="1989" y="1591" textLength="167" lengthAdjust="spacingAndGlyphs">যিহুদা এৰিষ্টবোলাচ</text><text class="nt" x="1989" y="1624" textLength="97" lengthAdjust="spacingAndGlyphs">I: 104-103</text></g>
<g id="alexander-jannaeus"><rect class="n" x="2229" y="1562" width="237" height="70" rx="11"/><text class="nt" x="2239" y="1591" textLength="131" lengthAdjust="spacingAndGlyphs">আলেক্সজেণ্ডাৰ</text><text class="nt" x="2239" y="1624" textLength="163" lengthAdjust="spacingAndGlyphs">যান্নায়াচ I: 103-76</text></g>
<g id="salome-alexandra"><rect class="l" x="2500" y="1562" width="216" height="70" rx="11"/><text class="nt" x="2511" y="1591" textLength="72" lengthAdjust="spacingAndGlyphs">চালোমে</text><text class="nt" x="2511" y="1624" textLength="182" lengthAdjust="spacingAndGlyphs">আলেক্সজেণ্ড্ৰা: 76-67</text></g>
<g id="hyrcanus-2"><rect class="n" x="2106" y="1740" width="226" height="42" rx="11"/><text class="nt" x="2114" y="1769" textLength="185" lengthAdjust="spacingAndGlyphs">হাৰীকানাচ II: 63-40</text></g>
<g id="aristobulus-2"><rect class="n" x="2381" y="1740" width="244" height="42" rx="11"/><text class="nt" x="2391" y="1769" textLength="209" lengthAdjust="spacingAndGlyphs">আৰিষ্টবোলাচ II: 67-63</text></g>
<g id="alexandra"><rect class="l" x="2145" y="1900" width="140" height="73" rx="11"/><text class="nt" x="2154" y="1930" textLength="124" lengthAdjust="spacingAndGlyphs">আলেক্সজেণ্ড্ৰা:</text><text class="nt" x="2154" y="1963" textLength="49" lengthAdjust="spacingAndGlyphs">d. 28</text></g>
<g id="alexander"><rect class="n" x="2355" y="1900" width="141" height="73" rx="11"/><text class="nt" x="2363" y="1930" textLength="128" lengthAdjust="spacingAndGlyphs">আলেক্সজেণ্ডাৰ:</text><text class="nt" x="2363" y="1963" textLength="91" lengthAdjust="spacingAndGlyphs">d. 49 (48)</text></g>
<g id="mattathias-antigonus"><rect class="n" x="2566" y="1900" width="242" height="73" rx="11"/><text class="nt" x="2575" y="1930" textLength="87" lengthAdjust="spacingAndGlyphs">মাট্টাথিয়াচ</text><text class="nt" x="2575" y="1963" textLength="151" lengthAdjust="spacingAndGlyphs">এন্টিগনাচ: 40-37</text></g>
<g id="aristobulus-3"><rect class="n" x="2161" y="2081" width="180" height="73" rx="11"/><text class="nt" x="2170" y="2111" textLength="157" lengthAdjust="spacingAndGlyphs">আৰিষ্টবোলাচ III:</text><text class="nt" x="2170" y="2144" textLength="47" lengthAdjust="spacingAndGlyphs">d. 35</text></g>
<g id="mariamne-1"><rect class="l" x="2428" y="2081" width="150" height="73" rx="11"/><text class="nt" x="2437" y="2111" textLength="115" lengthAdjust="spacingAndGlyphs">মাৰিয়ামনে I:</text><text class="nt" x="2437" y="2144" textLength="47" lengthAdjust="spacingAndGlyphs">d. 29</text></g>
<g id="herod-great"><rect class="n" x="2639" y="2081" width="211" height="73" rx="11"/><text class="nt" x="2650" y="2111" textLength="116" lengthAdjust="spacingAndGlyphs">মহান হেৰোদ:</text><text class="nt" x="2650" y="2144" textLength="87" lengthAdjust="spacingAndGlyphs">(40) 37-4</text></g>

<!-- note -->
<g id="note">
<text class="ft" x="1706" y="2218" textLength="1289" lengthAdjust="spacingAndGlyphs">কেৱল অধিকভাবে গুৰুত্বপূৰ্ণ শাসনকৰ্তাসকলৰ নামবোৰক এই পৃষ্ঠাবোৰত সনিবিষ্ট কৰা হৈছে। সকলো তাৰিখবোৰ খ্ৰীষ্টপূৰ্ব আৰু অন্যভাবে উল্লেখ</text>
<text class="ft" x="1706" y="2251" textLength="1392" lengthAdjust="spacingAndGlyphs">নাথাকিলে এইবোৰ ৰাজত্বৰ বছৰবোৰক আঙুলিয়াই দিয়ে। নিৰ্দিষ্ট শাসনকৰ্তাসকলৰ ৰাজত্বক চিনাক্তকৰণৰ বাবে উল্লেখ কৰা তাৰিখবোৰ বিবাদিত তাৰিখ;</text>
<text class="ft" x="1706" y="2284" textLength="1350" lengthAdjust="spacingAndGlyphs">যত নেকি সম্ভাৱনা আছে যে বিকল্প আৰম্ভণি বা বন্ধনীৰ ভিতৰত উল্লেখ কৰা ৰাজত্বৰ সাময়িক পৰা তাৰিখবোৰক দেখুৱা হৈছে। এখন অন্ধকাৰ পটভূমিয়ে</text>
<text class="ft" x="1706" y="2316" textLength="1406" lengthAdjust="spacingAndGlyphs">এগৰাকী পুৰুষক বুজাই, আৰু এখন পাতল পটভূমিয়ে এগৰাকী তিৰোতাক বুজাই; বিন্দু দিয়া ৰেখাই এখন বিবাহক বুজাই; “ডি” চিহ্নই মৃত্যু হোৱা বছৰক বুজাই।</text>
</g>
</svg>
